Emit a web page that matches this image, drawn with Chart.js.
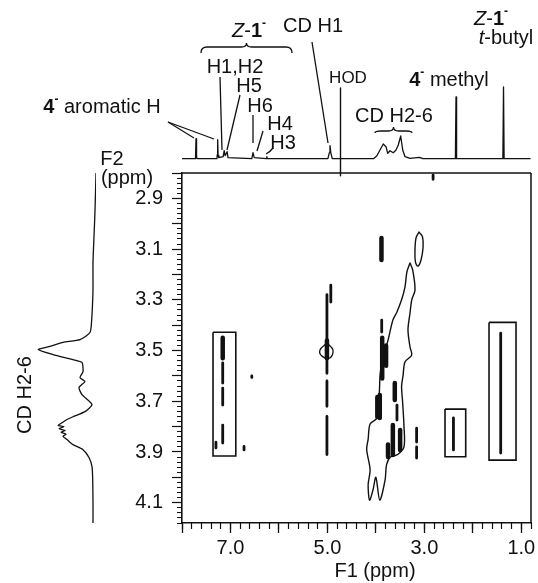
<!DOCTYPE html>
<html>
<head>
<meta charset="utf-8">
<script src="https://cdn.jsdelivr.net/npm/chart.js@4.4.1/dist/chart.umd.min.js"></script>
<style>
body{margin:0;background:#fff;}
#wrap{position:relative;width:538px;height:583px;background:#fff;}
canvas{position:absolute;left:0;top:0;}
</style>
</head>
<body>
<div id="wrap">
<canvas id="main" width="538" height="583"></canvas>
<canvas id="top" width="538" height="180"></canvas>
<canvas id="side" width="182" height="583"></canvas>
</div>
<script>
// axis ranges and tick labels (ppm)
var f1Min = 0.8, f1Max = 8.0;
var f2Min = 2.8, f2Max = 4.18;
var f1Labels = ['7.0', '5.0', '3.0', '1.0'];
var f2Labels = ['2.9', '3.1', '3.3', '3.5', '3.7', '3.9', '4.1'];

// 1D trace along F1 (top)
var topPpm = [8.00, 7.73, 7.72, 7.711, 7.70, 7.69, 7.28, 7.272, 7.264, 7.255, 7.24, 7.15, 7.13, 7.11, 7.07, 7.05,
  6.56, 6.535, 6.51, 6.26, 6.25, 6.24, 4.99, 4.96, 4.947, 4.93, 4.90,
  4.05, 3.983, 3.915, 3.847, 3.791, 3.756, 3.709, 3.641, 3.585, 3.538, 3.488, 3.447, 3.399, 3.296, 3.10, 3.03,
  2.36, 2.347, 2.335, 1.38, 1.367, 1.355, 0.82];
var topInt = [0, 0, 3, 20, 2, 0, 0, 4, 19, 3, 1, 2, 8, 3, 7, 1,
  0, 6, 1, 0, 2, 0, 0, 6, 13, 6, 0,
  0, 2.7, 8.7, 14.7, 12, 5.4, 8, 6, 8.7, 13.7, 22.7, 8.7, 2, 0.4, 1.4, 0,
  0, 61.7, 0, 0, 71.7, 0, 0];
// HOD marker line
var hodPpm = 4.73;
var hodInt = [70.7, -17];

// 1D trace along F2 (left)
var sidePpm = [2.80, 2.95, 3.05, 3.15, 3.25, 3.30, 3.378, 3.429, 3.457, 3.468, 3.484, 3.496, 3.516, 3.536, 3.547,
  3.583, 3.607, 3.622, 3.646, 3.674, 3.713, 3.741, 3.761, 3.772, 3.785, 3.795, 3.80, 3.808, 3.815, 3.822, 3.83,
  3.838, 3.851, 3.871, 3.891, 3.922, 3.958, 4.009, 4.10, 4.18];
var sideInt = [0, 1, 2, 3, 3, 3.3, 4.3, 6, 16, 33, 46, 57.7, 43, 23, 14,
  13, 16, 11, 17, 14, 4, 11, 23, 29, 34, 38, 32, 37, 31, 35, 30,
  33, 29, 23, 13, 7, 4, 3.3, 3, 3];

// thin cross-peak streaks: F1, F2 start, F2 end
var peakF1 = [7.16, 7.16, 7.16, 7.30, 6.72, 6.56, 4.93, 5.01, 5.01, 5.01, 2.40, 1.425, 3.16, 3.16, 2.82, 3.88, 3.565];
var peakF2a = [3.549, 3.648, 3.794, 3.861, 3.878, 3.600, 3.242, 3.28, 3.62, 3.76, 3.766, 3.431, 3.806, 3.880, 2.808, 3.38, 3.715];
var peakF2b = [3.628, 3.715, 3.865, 3.884, 3.892, 3.606, 3.309, 3.59, 3.72, 3.91, 3.892, 3.904, 3.861, 3.924, 2.825, 3.427, 3.774];

// dense blobs
var blobF1 = [7.16, 5.01, 3.885, 3.87, 3.79, 3.92, 3.61, 3.65, 3.50, 3.75, 3.97];
var blobF2a = [3.45, 3.46, 3.056, 3.45, 3.48, 3.675, 3.628, 3.794, 3.813, 3.87, 3.683];
var blobF2b = [3.53, 3.53, 3.143, 3.61, 3.56, 3.766, 3.695, 3.912, 3.892, 3.92, 3.762];

// contour outlines
var ridgeF1 = [3.296, 3.241, 3.193, 3.261, 3.296, 3.338, 3.296, 3.261, 3.40, 3.44, 3.47, 3.45, 3.42, 3.42, 3.55, 3.70,
  3.78, 3.81, 3.92, 4.00, 4.06, 4.13, 4.16, 4.12, 4.19, 4.16, 4.12, 3.98, 3.93, 3.91, 3.85, 3.75, 3.65, 3.57, 3.47, 3.40, 3.36, 3.296];
var ridgeF2 = [3.155, 3.182, 3.261, 3.301, 3.352, 3.419, 3.486, 3.518, 3.545, 3.60, 3.64, 3.70, 3.80, 3.88, 3.91, 3.92,
  3.95, 4.01, 4.09, 4.00, 4.05, 4.09, 4.03, 3.97, 3.89, 3.85, 3.79, 3.766, 3.668, 3.589, 3.526, 3.46, 3.38, 3.35, 3.30, 3.25, 3.19, 3.155];
var ovalF1 = [3.111, 3.038, 3.028, 3.069, 3.131, 3.183, 3.193, 3.172, 3.111];
var ovalF2 = [3.033, 3.052, 3.096, 3.143, 3.167, 3.151, 3.104, 3.056, 3.033];
var loopF1 = [5.009, 4.885, 4.947, 5.112, 5.153, 5.009];
var loopF2 = [3.470, 3.498, 3.529, 3.522, 3.498, 3.470];

// boxed regions
var boxF1a = [7.36, 2.574, 1.666];
var boxF1b = [6.89, 2.147, 1.109];
var boxF2a = [3.428, 3.731, 3.389];
var boxF2b = [3.916, 3.919, 3.932];

var FONT = "'Liberation Sans', Arial, Helvetica, sans-serif";
var INK = '#111';

function pts(xs, ys) {
  return xs.map(function (x, i) { return {x: x, y: ys[i]}; });
}
function lineSet(data, width, extra) {
  var d = {data: data, showLine: true, borderColor: INK, borderWidth: width, pointRadius: 0,
    fill: false, tension: 0, borderCapStyle: 'round', borderJoinStyle: 'round'};
  for (var k in extra) d[k] = extra[k];
  return d;
}

var mainSets = [];
for (var i = 0; i < boxF1a.length; i++) {
  mainSets.push(lineSet(pts([boxF1a[i], boxF1b[i], boxF1b[i], boxF1a[i], boxF1a[i]],
    [boxF2a[i], boxF2a[i], boxF2b[i], boxF2b[i], boxF2a[i]]), 1.6, {borderJoinStyle: 'miter', borderCapStyle: 'butt'}));
}
for (i = 0; i < peakF1.length; i++) {
  mainSets.push(lineSet(pts([peakF1[i], peakF1[i]], [peakF2a[i], peakF2b[i]]), 2.8));
}
for (i = 0; i < blobF1.length; i++) {
  mainSets.push(lineSet(pts([blobF1[i], blobF1[i]], [blobF2a[i], blobF2b[i]]), 4.5));
}
mainSets.push(lineSet(pts(ridgeF1, ridgeF2), 1.4, {tension: 0.3}));
mainSets.push(lineSet(pts(ovalF1, ovalF2), 1.4, {tension: 0.4}));
mainSets.push(lineSet(pts(loopF1, loopF2), 1.3, {tension: 0.4}));

function near(v, s) { return Math.abs(v - parseFloat(s)) < 1e-6; }

function rich(ctx, parts, x, y) {
  var w = 0;
  parts.forEach(function (p) { ctx.font = p[1]; w += ctx.measureText(p[0]).width; });
  var cx = x - w / 2;
  parts.forEach(function (p) {
    ctx.font = p[1];
    ctx.fillText(p[0], cx, y - (p[2] || 0));
    cx += ctx.measureText(p[0]).width;
  });
}
function seg(ctx, x1, y1, x2, y2) {
  ctx.beginPath(); ctx.moveTo(x1, y1); ctx.lineTo(x2, y2); ctx.stroke();
}
function brace(ctx, x1, x2, yEnd, yTop) {
  var m = (x1 + x2) / 2, yb = yTop + 4;
  ctx.beginPath();
  ctx.moveTo(x1, yEnd);
  ctx.quadraticCurveTo(x1, yb, x1 + 6, yb);
  ctx.lineTo(m - 5, yb);
  ctx.quadraticCurveTo(m, yb, m, yTop);
  ctx.quadraticCurveTo(m, yb, m + 5, yb);
  ctx.lineTo(x2 - 6, yb);
  ctx.quadraticCurveTo(x2, yb, x2, yEnd);
  ctx.stroke();
}

var notes = {
  id: 'notes',
  afterDraw: function (chart) {
    var ctx = chart.ctx, a = chart.chartArea;
    ctx.save();
    ctx.strokeStyle = INK;
    ctx.fillStyle = INK;
    ctx.lineWidth = 1.5;
    seg(ctx, a.left, a.top, a.right, a.top);
    seg(ctx, a.right, a.top, a.right, a.bottom);

    ctx.textBaseline = 'alphabetic';
    ctx.textAlign = 'left';
    var R = '20px ' + FONT, B = 'bold 20px ' + FONT, I = 'italic 20px ' + FONT, S = 'bold 12px ' + FONT;
    rich(ctx, [['Z', I], ['-', R], ['1', B], ['-', S, 10]], 249, 37);
    rich(ctx, [['CD H1', R]], 313, 32);
    rich(ctx, [['H1,H2', R]], 235, 73);
    rich(ctx, [['H5', R]], 249, 92);
    rich(ctx, [['H6', R]], 260, 112);
    rich(ctx, [['H4', R]], 280, 130);
    rich(ctx, [['H3', R]], 283, 149);
    rich(ctx, [['HOD', '17px ' + FONT]], 348, 83);
    rich(ctx, [['4', B], ['-', S, 10], [' methyl', R]], 449, 86);
    rich(ctx, [['CD H2-6', R]], 394, 122);
    rich(ctx, [['Z', I], ['-', R], ['1', B], ['-', S, 10]], 491, 25);
    rich(ctx, [['t', I], ['-butyl', R]], 506, 44);
    rich(ctx, [['4', B], ['-', S, 10], [' aromatic H', R]], 102, 113);
    rich(ctx, [['F2', R]], 112, 165);
    rich(ctx, [['(ppm)', R]], 127, 184);
    rich(ctx, [['F1 (ppm)', R]], 375, 577);

    ctx.save();
    ctx.translate(31, 395);
    ctx.rotate(-Math.PI / 2);
    rich(ctx, [['CD H2-6', R]], 0, 0);
    ctx.restore();

    ctx.lineWidth = 1.3;
    brace(ctx, 201, 292, 53, 43);
    brace(ctx, 375, 412, 133, 127);
    seg(ctx, 168, 122, 194, 138);
    seg(ctx, 168, 122, 214, 139);
    seg(ctx, 220, 77, 222, 150);
    seg(ctx, 240, 95, 227, 150);
    seg(ctx, 253, 115, 253, 143);
    seg(ctx, 263, 131, 257, 151);
    ctx.beginPath(); ctx.moveTo(273, 148); ctx.quadraticCurveTo(270, 152, 266, 154); ctx.stroke();
    seg(ctx, 312, 42, 328, 143);
    ctx.restore();
  }
};

new Chart(document.getElementById('main'), {
  type: 'scatter',
  data: {datasets: mainSets},
  options: {
    responsive: false, animation: false, devicePixelRatio: 1,
    layout: {padding: {left: 0, right: 7, top: 173, bottom: 0}},
    plugins: {legend: {display: false}, tooltip: {enabled: false}},
    scales: {
      x: {
        type: 'linear', position: 'bottom', weight: 1, min: f1Min, max: f1Max, reverse: true,
        ticks: {stepSize: 0.2, autoSkip: false, maxRotation: 0, padding: 3, color: INK,
          font: {family: FONT, size: 20},
          callback: function (v) { var s = v.toFixed(1); return f1Labels.indexOf(s) >= 0 && near(v, s) ? s : ''; }},
        grid: {drawOnChartArea: false, tickLength: 10, tickWidth: 1.3,
          tickColor: function (c) { var v = c.tick ? c.tick.value : 0; return near(v, Math.round(v).toFixed(1)) ? INK : 'rgba(0,0,0,0)'; }},
        border: {color: INK, width: 1.6},
        afterFit: function (s) { s.height = 60; }
      },
      xMinor: {
        type: 'linear', position: 'bottom', weight: 0, min: f1Min, max: f1Max, reverse: true,
        ticks: {stepSize: 0.2, autoSkip: false, display: false},
        grid: {drawOnChartArea: false, tickLength: 6, tickWidth: 1.2, tickColor: INK},
        border: {display: false},
        afterFit: function (s) { s.height = 0; }
      },
      y: {
        type: 'linear', position: 'left', weight: 1, min: f2Min, max: f2Max, reverse: true,
        ticks: {stepSize: 0.02, autoSkip: false, padding: 9, color: INK,
          font: {family: FONT, size: 20},
          callback: function (v) { var s = v.toFixed(1); return f2Labels.indexOf(s) >= 0 && near(v, s) ? s : ''; }},
        grid: {drawOnChartArea: false, tickLength: 10, tickWidth: 1.2,
          tickColor: function (c) { var v = c.tick ? c.tick.value : 0; return near(v * 10, Math.round(v * 10).toFixed(0)) ? INK : 'rgba(0,0,0,0)'; }},
        border: {color: INK, width: 1.6},
        afterFit: function (s) { s.width = 182; }
      },
      yMinor: {
        type: 'linear', position: 'left', weight: 0, min: f2Min, max: f2Max, reverse: true,
        ticks: {stepSize: 0.02, autoSkip: false, display: false},
        grid: {drawOnChartArea: false, tickLength: 5, tickWidth: 1, tickColor: INK},
        border: {display: false},
        afterFit: function (s) { s.width = 0; }
      }
    }
  },
  plugins: [notes]
});

new Chart(document.getElementById('top'), {
  type: 'scatter',
  data: {datasets: [
    lineSet(pts(topPpm, topInt), 1.3, {tension: 0}),
    lineSet(pts([hodPpm, hodPpm], hodInt), 1.4, {clip: false, borderCapStyle: 'butt'})
  ]},
  options: {
    responsive: false, animation: false, devicePixelRatio: 1,
    layout: {padding: {left: 182, right: 7, top: 85, bottom: 20}},
    plugins: {legend: {display: false}, tooltip: {enabled: false}},
    scales: {
      x: {type: 'linear', display: false, min: f1Min, max: f1Max, reverse: true},
      y: {type: 'linear', display: false, min: -1.3, max: 73.7}
    }
  }
});

new Chart(document.getElementById('side'), {
  type: 'scatter',
  data: {datasets: [lineSet(pts(sideInt, sidePpm), 1.3, {tension: 0.2})]},
  options: {
    responsive: false, animation: false, devicePixelRatio: 1,
    layout: {padding: {left: 36, right: 86, top: 173, bottom: 60}},
    plugins: {legend: {display: false}, tooltip: {enabled: false}},
    scales: {
      x: {type: 'linear', display: false, min: 0, max: 60, reverse: true},
      y: {type: 'linear', display: false, min: f2Min, max: f2Max, reverse: true}
    }
  }
});
</script>
</body>
</html>
